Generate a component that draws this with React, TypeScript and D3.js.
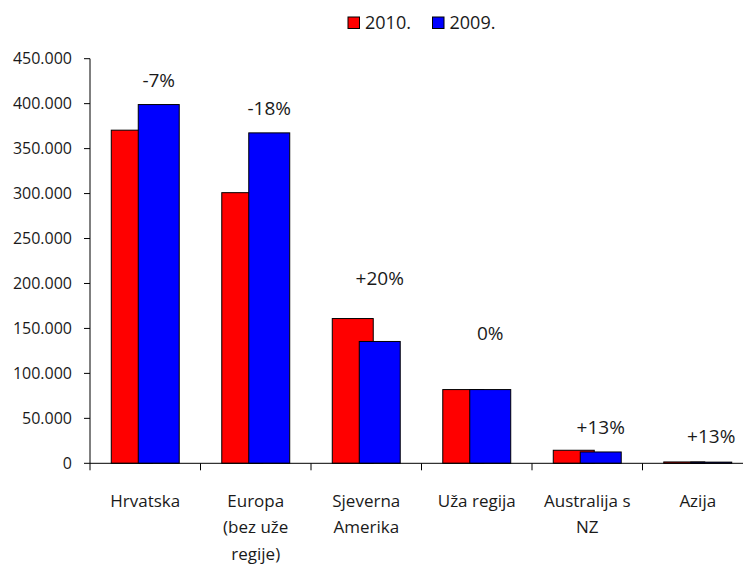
import React from "react";
import * as d3 from "d3";

const categories = [
  ["Hrvatska"],
  ["Europa", "(bez uže", "regije)"],
  ["Sjeverna", "Amerika"],
  ["Uža regija"],
  ["Australija s", "NZ"],
  ["Azija"],
];
const values2010 = [370500, 301000, 161000, 82000, 14500, 1500];
const values2009 = [399000, 367500, 135500, 82000, 12600, 1300];
const changeLabels = ["-7%", "-18%", "+20%", "0%", "+13%", "+13%"];
const labelAt = [418500, 387400, 198300, 137100, 32600, 22600];
const yTicks = [0, 50000, 100000, 150000, 200000, 250000, 300000, 350000, 400000, 450000];
const seriesNames = ["2010.", "2009."];
const seriesColors = ["#ff0000", "#0000ff"];

const W = 743;
const H = 566;
const FONT = "'Open Sans', sans-serif";
const TXT = "#1a1a1a";

const fmt = (v: number) => (v === 0 ? "0" : d3.format(",")(v).replace(/,/g, "."));

export default function App() {
  const left = 90;
  const step = 110.5;
  const x = d3
    .scaleBand<number>()
    .domain(categories.map((_, i) => i))
    .range([left, left + step * categories.length])
    .paddingInner(0.385)
    .paddingOuter(0.1925);
  const y = d3.scaleLinear().domain([0, 450000]).range([463.3, 58.7]);
  const bw = x.bandwidth();
  const barW = (bw * 41) / 68;
  const shift = bw - barW;
  const y0 = y(0);

  return (
    <svg
      width={W}
      height={H}
      style={{ position: "absolute", left: 0, top: 0, background: "#fff" }}
      fontFamily={FONT}
    >
      {/* legend */}
      {seriesNames.map((n, i) => {
        const lx = [348, 432.5][i];
        return (
          <g key={n}>
            <rect x={lx} y={17} width={11.5} height={11.5} fill={seriesColors[i]} stroke="#000" strokeWidth={1} />
            <text x={lx + 17} y={29} fontSize={18} fill={TXT}>
              {n}
            </text>
          </g>
        );
      })}

      {/* bars */}
      {categories.map((_, i) => {
        const bx = x(i)!;
        return (
          <g key={i}>
            <rect
              x={bx}
              y={y(values2010[i])}
              width={barW}
              height={y0 - y(values2010[i])}
              fill={seriesColors[0]}
              stroke="#000"
              strokeWidth={1}
            />
            <rect
              x={bx + shift}
              y={y(values2009[i])}
              width={barW}
              height={y0 - y(values2009[i])}
              fill={seriesColors[1]}
              stroke="#000"
              strokeWidth={1}
            />
            <text
              x={bx + shift + barW / 2}
              y={y(labelAt[i])}
              textAnchor="middle"
              fontSize={19}
              fill={TXT}
            >
              {changeLabels[i]}
            </text>
          </g>
        );
      })}

      {/* y axis */}
      <line x1={left} x2={left} y1={y(450000)} y2={y0} stroke="#000" strokeWidth={1} />
      {yTicks.map((t) => (
        <g key={t}>
          <line x1={left - 6} x2={left} y1={y(t)} y2={y(t)} stroke="#000" strokeWidth={1} />
          <text x={72} y={y(t) + 5.7} textAnchor="end" fontSize={16} fill={TXT}>
            {fmt(t)}
          </text>
        </g>
      ))}

      {/* x axis */}
      <line x1={left} x2={W} y1={y0} y2={y0} stroke="#000" strokeWidth={1} />
      {categories.map((_, i) => {
        const tx = x(i)! - (x.step() - bw) / 2;
        return <line key={i} x1={tx} x2={tx} y1={y0} y2={y0 + 7} stroke="#000" strokeWidth={1} />;
      })}
      {categories.map((lines, i) => {
        const cx = x(i)! + bw / 2;
        return (
          <text key={i} textAnchor="middle" fontSize={17} fill={TXT}>
            {lines.map((l, j) => (
              <tspan key={j} x={cx} y={506.7 + j * 26.7}>
                {l}
              </tspan>
            ))}
          </text>
        );
      })}
    </svg>
  );
}
